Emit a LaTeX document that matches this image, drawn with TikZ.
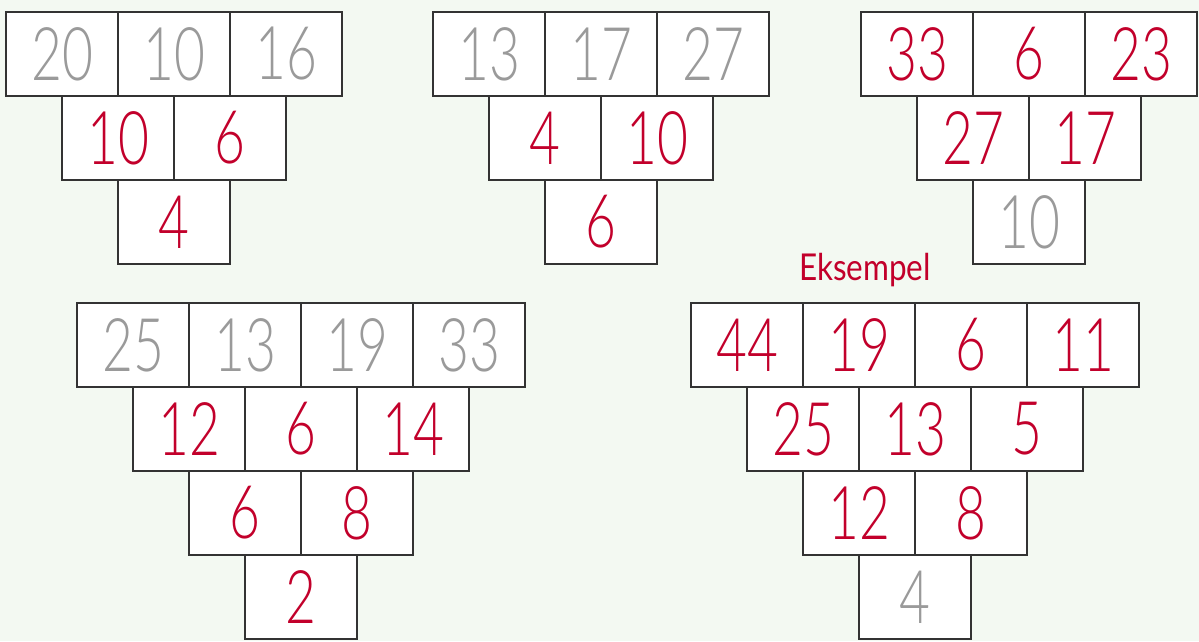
\documentclass[tikz,border=0pt]{standalone}
\usepackage{fontspec}
\newfontfamily\numfont{Lato Light}
\newfontfamily\labfont{Lato}
\definecolor{bg}{HTML}{F3F9F2}
\definecolor{numgray}{HTML}{9A9A9A}
\definecolor{numred}{HTML}{C2002B}
\definecolor{edge}{HTML}{333333}
\newcommand\nm[1]{\scalebox{0.72}[1]{#1}}
\tikzset{
  cell/.style={draw=edge, line width=1.3pt, fill=white, minimum width=112pt, minimum height=84pt, inner sep=0pt, font=\numfont\fontsize{74}{74}\selectfont},
  given/.style={cell, text=numgray},
  found/.style={cell, text=numred},
}
\begin{document}
\begin{tikzpicture}[x=1pt,y=-1pt]
\fill[bg] (0,0) rectangle (1199,641);
\useasboundingbox (0,0) rectangle (1199,641);
% top left
\node[given] (a11) at (62,54) {\nm{20}};
\node[given] (a12) at (174,54) {\nm{10}};
\node[given] (a13) at (286,54) {\nm{16}};
\node[found] (a21) at (118,138) {\nm{10}};
\node[found] (a22) at (230,138) {\nm{6}};
\node[found] (a31) at (174,222) {\nm{4}};
% top middle
\node[given] (b11) at (489,54) {\nm{13}};
\node[given] (b12) at (601,54) {\nm{17}};
\node[given] (b13) at (713,54) {\nm{27}};
\node[found] (b21) at (545,138) {\nm{4}};
\node[found] (b22) at (657,138) {\nm{10}};
\node[found] (b31) at (601,222) {\nm{6}};
% top right
\node[found] (c11) at (917,54) {\nm{33}};
\node[found] (c12) at (1029,54) {\nm{6}};
\node[found] (c13) at (1141,54) {\nm{23}};
\node[found] (c21) at (973,138) {\nm{27}};
\node[found] (c22) at (1085,138) {\nm{17}};
\node[given] (c31) at (1029,222) {\nm{10}};
% bottom left
\node[given] (d11) at (133,345) {\nm{25}};
\node[given] (d12) at (245,345) {\nm{13}};
\node[given] (d13) at (357,345) {\nm{19}};
\node[given] (d14) at (469,345) {\nm{33}};
\node[found] (d21) at (189,429) {\nm{12}};
\node[found] (d22) at (301,429) {\nm{6}};
\node[found] (d23) at (413,429) {\nm{14}};
\node[found] (d31) at (245,513) {\nm{6}};
\node[found] (d32) at (357,513) {\nm{8}};
\node[found] (d41) at (301,597) {\nm{2}};
% bottom right (example)
\node[text=numred, font=\labfont\fontsize{37}{37}\selectfont] (ex) at (865,270) {\scalebox{0.85}[1]{Eksempel}};
\node[found] (e11) at (747,345) {\nm{44}};
\node[found] (e12) at (859,345) {\nm{19}};
\node[found] (e13) at (971,345) {\nm{6}};
\node[found] (e14) at (1083,345) {\nm{11}};
\node[found] (e21) at (803,429) {\nm{25}};
\node[found] (e22) at (915,429) {\nm{13}};
\node[found] (e23) at (1027,429) {\nm{5}};
\node[found] (e31) at (859,513) {\nm{12}};
\node[found] (e32) at (971,513) {\nm{8}};
\node[given] (e41) at (915,597) {\nm{4}};
\end{tikzpicture}
\end{document}
